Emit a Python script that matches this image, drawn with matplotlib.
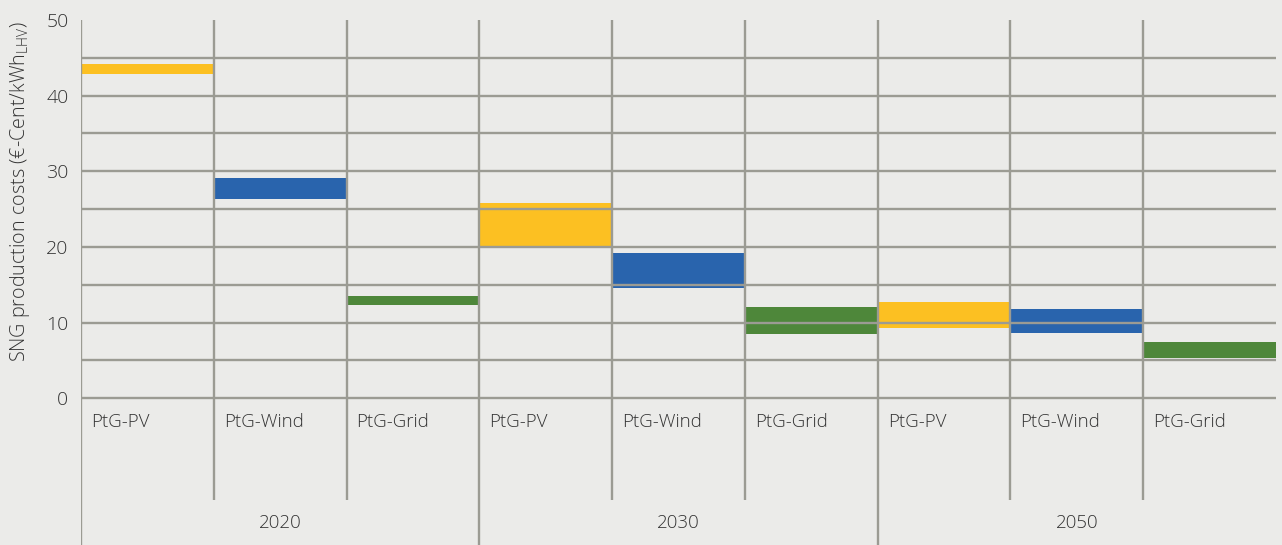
import matplotlib.pyplot as plt

plt.rcParams['font.family'] = ['Open Sans', 'DejaVu Sans']
plt.rcParams['font.weight'] = 'light'
plt.rcParams['mathtext.fontset'] = 'custom'
plt.rcParams['mathtext.rm'] = 'Open Sans:light'

# data (cost ranges, €-Cent/kWh)
years = ['2020', '2030', '2050']
pathways = ['PtG-PV', 'PtG-Wind', 'PtG-Grid']
cost_low = [42.9, 26.3, 12.3, 20.1, 14.6, 8.5, 9.3, 8.6, 5.3]
cost_high = [44.2, 29.1, 13.5, 25.8, 19.2, 12.0, 12.7, 11.8, 7.5]
bar_colors = {'PtG-PV': '#FCC022', 'PtG-Wind': '#2964AD', 'PtG-Grid': '#4E873A'}

bg = '#EBEBE9'
grid_col = '#9B9B93'
text_col = '#333333'

fig = plt.figure(figsize=(12.82, 5.45), dpi=100, facecolor=bg)
ax = fig.add_axes([81 / 1282, 0, (1276 - 81) / 1282, 1 - 20 / 545])
ax.set_facecolor(bg)

n_cat = len(years) * len(pathways)
y_bottom = -19.4
sep_bottom = -13.4

# floating range bars
for i in range(n_cat):
    p = pathways[i % len(pathways)]
    ax.bar(i, cost_high[i] - cost_low[i], bottom=cost_low[i], width=1,
           align='edge', color=bar_colors[p], zorder=1)

# grid lines
ax.hlines(range(0, 50, 5), 0, n_cat, color=grid_col, lw=1.7, zorder=3)
for i in range(n_cat):
    lo = y_bottom if i % len(pathways) == 0 else sep_bottom
    ax.vlines(i, lo, 50, color=grid_col, lw=1.7, zorder=3)

# category and year labels
for i in range(n_cat):
    ax.text(i + 0.075, -3.2, pathways[i % len(pathways)], ha='left', va='center',
            fontsize=13.5, color=text_col)
for g, yr in enumerate(years):
    ax.text(g * len(pathways) + len(pathways) / 2, -16.5, yr, ha='center', va='center',
            fontsize=13.5, color=text_col)

ax.set_xlim(0, n_cat)
ax.set_ylim(y_bottom, 50)
ax.set_xticks([])
ax.set_yticks(range(0, 51, 10))
ax.tick_params(axis='y', length=0, pad=9, labelsize=14, labelcolor=text_col)
for s in ax.spines.values():
    s.set_visible(False)

fig.text(20 / 1282, 1 - 192 / 545,
         'SNG production costs (€-Cent/kWh$_{\\mathregular{LHV}}$)',
         rotation=90, ha='center', va='center', fontsize=14.2, color=text_col)

fig.savefig('out.png', dpi=100, facecolor=bg)
